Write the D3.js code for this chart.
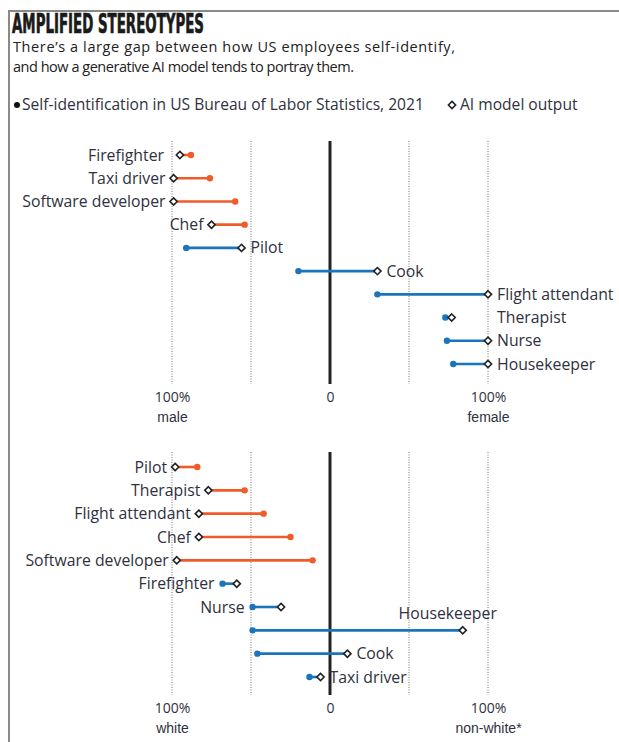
<!DOCTYPE html>
<html>
<head>
<meta charset="utf-8">
<script src="https://cdn.jsdelivr.net/npm/d3@7"></script>
<style>
	body { margin: 0; background: #fff; }
	svg { display: block; font-family: "Open Sans", Lato, sans-serif; }
	.label { font-size: 15.8px; fill: #2f3140; }
	.tick text { font-size: 14px; fill: #2f3140; }
</style>
</head>
<body>
<svg id="chart" width="619" height="742"></svg>
<script>
// gender panel: negative = male, positive = female
var genderJobs = ['Firefighter', 'Taxi driver', 'Software developer', 'Chef', 'Pilot', 'Cook', 'Flight attendant', 'Therapist', 'Nurse', 'Housekeeper'];
var genderBLS = [-88, -76, -60, -54, -91, -20, 30, 73, 74, 78];
var genderAI = [-95, -99, -99, -75, -56, 30, 100, 77, 100, 100];
var genderLabelPos = ['edge', 'left', 'left', 'left', 'right', 'right', 'right', 'edge', 'right', 'right'];

// race panel: negative = white, positive = non-white
var raceJobs = ['Pilot', 'Therapist', 'Flight attendant', 'Chef', 'Software developer', 'Firefighter', 'Nurse', 'Housekeeper', 'Cook', 'Taxi driver'];
var raceBLS = [-84, -54, -42, -25, -11, -68, -49, -49, -46, -13];
var raceAI = [-98, -77, -83, -83, -97, -59, -31, 84, 11, -6];
var raceLabelPos = ['left', 'left', 'left', 'left', 'left', 'left', 'left', 'above', 'right', 'right'];

var tickValues = [-100, 0, 100];
var genderTicks = [['100%', 'male'], ['0', ''], ['100%', 'female']];
var raceTicks = [['100%', 'white'], ['0', ''], ['100%', 'non-white*']];
var gridValues = [-100, -50, 50, 100];

var ORANGE = '#f15a29', BLUE = '#1b75bc', INK = '#222';

var svg = d3.select('#chart');
var x = d3.scaleLinear().domain([-100, 100]).range([172, 488]);

// frame
svg.append('path')
	.attr('d', 'M9,742 V11 H619')
	.attr('fill', 'none')
	.attr('stroke', '#8a8a8a')
	.attr('stroke-width', 2);

// header
svg.append('text')
	.attr('x', 12).attr('y', 33)
	.attr('textLength', 192).attr('lengthAdjust', 'spacingAndGlyphs')
	.style('font-family', '"Liberation Sans Narrow", "DejaVu Sans Condensed", sans-serif')
	.style('font-weight', 'bold').style('font-size', '26px').style('fill', '#1a1a1a')
	.style('stroke', '#1a1a1a').style('stroke-width', 0.7)
	.text('AMPLIFIED STEREOTYPES');

var subLines = ['There’s a large gap between how US employees self-identify,', 'and how a generative AI model tends to portray them.'];
var subWidths = [442, 341];
svg.selectAll('.sub')
	.data(subLines)
	.enter().append('text')
	.attr('class', 'sub')
	.attr('x', 13).attr('y', function (d, i) { return 52 + i * 20; })
	.attr('textLength', function (d, i) { return subWidths[i]; })
	.style('font-size', '14.5px').style('fill', '#222')
	.text(function (d) { return d; });

// legend
var legend = svg.append('g').attr('transform', 'translate(0,105)');
legend.append('circle').attr('cx', 17).attr('cy', 0).attr('r', 3).attr('fill', '#111');
legend.append('text').attr('class', 'label').attr('x', 22).attr('dy', '0.35em')
	.style('font-size', '15.6px').text('Self-identification in US Bureau of Labor Statistics, 2021');
legend.append('path').attr('d', diamond(452, 0)).attr('fill', '#fff').attr('stroke', INK).attr('stroke-width', 1.6);
legend.append('text').attr('class', 'label').attr('x', 460).attr('dy', '0.35em')
	.style('font-size', '15.6px').text('AI model output');

function diamond(cx, cy) {
	var r = 3.6;
	return 'M' + cx + ',' + (cy - r) + 'L' + (cx + r) + ',' + cy + 'L' + cx + ',' + (cy + r) + 'L' + (cx - r) + ',' + cy + 'Z';
}

function drawPanel(jobs, bls, ai, labelPos, ticks, top, bottom, firstRow, lastRow) {
	var g = svg.append('g');
	var y = d3.scalePoint().domain(jobs).range([firstRow, lastRow]);

	g.selectAll('.grid')
		.data(gridValues)
		.enter().append('line')
		.attr('x1', x).attr('x2', x)
		.attr('y1', top).attr('y2', bottom)
		.attr('stroke', '#777')
		.attr('stroke-width', 1)
		.attr('stroke-dasharray', '1,1.5');

	g.append('line')
		.attr('x1', x(0)).attr('x2', x(0))
		.attr('y1', top).attr('y2', bottom)
		.attr('stroke', INK).attr('stroke-width', 3);

	var rows = g.selectAll('.row')
		.data(jobs)
		.enter().append('g')
		.attr('class', 'row')
		.attr('transform', function (d) { return 'translate(0,' + y(d) + ')'; });

	function colour(i) { return ai[i] < bls[i] ? ORANGE : BLUE; }

	rows.append('line')
		.attr('x1', function (d, i) { return x(bls[i]); })
		.attr('x2', function (d, i) { return x(ai[i]); })
		.attr('stroke', function (d, i) { return colour(i); })
		.attr('stroke-width', 2.6);

	rows.append('circle')
		.attr('cx', function (d, i) { return x(bls[i]); })
		.attr('r', 3.2)
		.attr('fill', function (d, i) { return colour(i); });

	rows.append('path')
		.attr('d', function (d, i) { return diamond(x(ai[i]), 0); })
		.attr('fill', '#fff')
		.attr('stroke', INK)
		.attr('stroke-width', 1.6);

	rows.append('text')
		.attr('class', 'label')
		.attr('dy', function (d, i) { return labelPos[i] === 'above' ? '-0.7em' : '0.35em'; })
		.attr('text-anchor', function (d, i) {
			var p = labelPos[i];
			if (p === 'above') return 'middle';
			if (p === 'left' || (p === 'edge' && ai[i] < 0)) return 'end';
			return 'start';
		})
		.attr('x', function (d, i) {
			var p = labelPos[i], lo = Math.min(x(bls[i]), x(ai[i])), hi = Math.max(x(bls[i]), x(ai[i]));
			if (p === 'above') return x(ai[i]) - 15;
			if (p === 'edge') return ai[i] < 0 ? x(-100) - 8 : x(100) + 9;
			return p === 'left' ? lo - 8 : hi + 9;
		})
		.text(function (d) { return d; });

	var axis = d3.axisBottom(x)
		.tickValues(tickValues)
		.tickSize(0)
		.tickPadding(0)
		.tickFormat(function (d, i) { return ticks[i][0]; });

	var ax = g.append('g')
		.attr('transform', 'translate(0,' + (bottom + 8) + ')')
		.call(axis);
	ax.select('.domain').remove();
	ax.selectAll('.tick text')
		.style('font-family', '"Open Sans", Lato, sans-serif')
		.attr('dy', '0.71em');
	ax.selectAll('.tick').append('text')
		.attr('y', 20).attr('dy', '0.71em')
		.attr('text-anchor', 'middle')
		.style('font-size', '14px').style('fill', '#2f3140')
		.text(function (d, i) { return ticks[i][1]; });
}

drawPanel(genderJobs, genderBLS, genderAI, genderLabelPos, genderTicks, 141, 384, 155, 364);
drawPanel(raceJobs, raceBLS, raceAI, raceLabelPos, raceTicks, 452, 695, 467, 677);
</script>
</body>
</html>
